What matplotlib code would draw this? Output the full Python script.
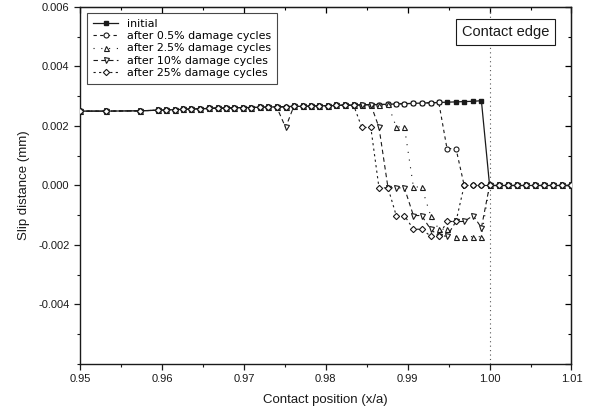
import matplotlib
matplotlib.use("Agg")
import matplotlib.pyplot as plt
from matplotlib.ticker import MultipleLocator, FormatStrFormatter, FixedLocator

plt.rcParams['font.family'] = ['Liberation Sans', 'DejaVu Sans']
plt.rcParams['axes.unicode_minus'] = False

# ---- data ----
x_pos = [0.9500, 0.9532, 0.9573, 0.9595, 0.9605, 0.9616, 0.9626, 0.9636, 0.9647, 0.9657,
         0.9668, 0.9678, 0.9688, 0.9699, 0.9709, 0.9720, 0.9730, 0.9740, 0.9751, 0.9761,
         0.9772, 0.9782, 0.9792, 0.9803, 0.9813, 0.9824, 0.9834, 0.9844, 0.9855, 0.9865,
         0.9876, 0.9886, 0.9896, 0.9907, 0.9917, 0.9928, 0.9938, 0.9948, 0.9959, 0.9969,
         0.9980, 0.9990, 1.0000, 1.0011, 1.0022, 1.0033, 1.0044, 1.0056, 1.0067, 1.0078,
         1.0089, 1.0100]

slip_initial = [0.00250, 0.00250, 0.00251, 0.00253, 0.00254, 0.00255, 0.00256, 0.00257, 0.00258, 0.00259,
                0.00260, 0.00260, 0.00261, 0.00262, 0.00262, 0.00263, 0.00264, 0.00264, 0.00265, 0.00266,
                0.00266, 0.00267, 0.00268, 0.00268, 0.00269, 0.00270, 0.00270, 0.00271, 0.00272, 0.00272,
                0.00273, 0.00274, 0.00275, 0.00276, 0.00277, 0.00278, 0.00279, 0.00280, 0.00281, 0.00282,
                0.00283, 0.00285, 0.0, 0.0, 0.0, 0.0, 0.0, 0.0, 0.0, 0.0,
                0.0, 0.0]

slip_05 = [0.00250, 0.00250, 0.00251, 0.00253, 0.00254, 0.00255, 0.00256, 0.00257, 0.00258, 0.00259,
           0.00260, 0.00260, 0.00261, 0.00262, 0.00262, 0.00263, 0.00264, 0.00264, 0.00265, 0.00266,
           0.00266, 0.00267, 0.00268, 0.00268, 0.00269, 0.00270, 0.00270, 0.00271, 0.00272, 0.00272,
           0.00273, 0.00274, 0.00275, 0.00276, 0.00277, 0.00278, 0.00279, 0.00124, 0.00124, 0.0,
           0.0, 0.0, 0.0, 0.0, 0.0, 0.0, 0.0, 0.0, 0.0, 0.0,
           0.0, 0.0]

slip_25 = [0.00250, 0.00250, 0.00251, 0.00253, 0.00254, 0.00255, 0.00256, 0.00257, 0.00258, 0.00259,
           0.00260, 0.00260, 0.00261, 0.00262, 0.00262, 0.00263, 0.00264, 0.00264, 0.00265, 0.00266,
           0.00266, 0.00267, 0.00268, 0.00268, 0.00269, 0.00270, 0.00270, 0.00271, 0.00272, 0.00272,
           0.00273, 0.00197, 0.00197, -0.00005, -0.00005, -0.00101, -0.00147, -0.00147, -0.00172, -0.00172,
           -0.00172, -0.00172, 0.0, 0.0, 0.0, 0.0, 0.0, 0.0, 0.0, 0.0,
           0.0, 0.0]

slip_10 = [0.00250, 0.00250, 0.00251, 0.00253, 0.00254, 0.00255, 0.00256, 0.00257, 0.00258, 0.00259,
           0.00260, 0.00260, 0.00261, 0.00262, 0.00262, 0.00263, 0.00264, 0.00264, 0.00195, 0.00266,
           0.00266, 0.00267, 0.00268, 0.00268, 0.00269, 0.00270, 0.00270, 0.00271, 0.00272, 0.00195,
           -0.00008, -0.00008, -0.00008, -0.00101, -0.00101, -0.00147, -0.00170, -0.00170, -0.00121, -0.00121,
           -0.00101, -0.00142, 0.0, 0.0, 0.0, 0.0, 0.0, 0.0, 0.0, 0.0,
           0.0, 0.0]

slip_250 = [0.00250, 0.00250, 0.00251, 0.00253, 0.00254, 0.00255, 0.00256, 0.00257, 0.00258, 0.00259,
            0.00260, 0.00260, 0.00261, 0.00262, 0.00262, 0.00263, 0.00264, 0.00264, 0.00265, 0.00266,
            0.00266, 0.00267, 0.00268, 0.00268, 0.00269, 0.00270, 0.00270, 0.00195, 0.00195, -0.00008,
            -0.00008, -0.00101, -0.00101, -0.00147, -0.00147, -0.00170, -0.00170, -0.00121, -0.00121, 0.0,
            0.0, 0.0, 0.0, 0.0, 0.0, 0.0, 0.0, 0.0, 0.0, 0.0,
            0.0, 0.0]

labels = ["initial",
          "after 0.5% damage cycles",
          "after 2.5% damage cycles",
          "after 10% damage cycles",
          "after 25% damage cycles"]

x_ticks = [0.95, 0.96, 0.97, 0.98, 0.99, 1.00, 1.01]
y_ticks = [-0.004, -0.002, 0.000, 0.002, 0.004, 0.006]

# ---- figure ----
fig = plt.figure(figsize=(5.95, 4.11), dpi=100)
ax = fig.add_axes([0.1345, 0.1144, 0.826, 0.8686])

ink = '#1a1a1a'
ms = 3.6
ax.plot(x_pos, slip_initial, '-', color=ink, lw=0.9, marker='s', ms=3.0,
        mfc=ink, mec=ink, label=labels[0], zorder=3)
ax.plot(x_pos, slip_05, color=ink, lw=0.8, ls=(0, (3, 3)), marker='o', ms=ms,
        mfc='white', mec=ink, mew=0.8, label=labels[1], zorder=4)
ax.plot(x_pos, slip_25, color=ink, lw=0.8, ls=(0, (1, 6)), marker='^', ms=ms,
        mfc='white', mec=ink, mew=0.8, label=labels[2], zorder=4)
ax.plot(x_pos, slip_10, color=ink, lw=0.8, ls=(0, (4, 3)), marker='v', ms=ms,
        mfc='white', mec=ink, mew=0.8, label=labels[3], zorder=4)
ax.plot(x_pos, slip_250, color=ink, lw=0.8, ls=(0, (2, 3)), marker='D', ms=3.2,
        mfc='white', mec=ink, mew=0.8, label=labels[4], zorder=5)

# contact edge line
ax.axvline(1.00, color='#555555', lw=0.8, ls=(0, (1, 3)), zorder=2)

ax.set_xlim(0.95, 1.01)
ax.set_ylim(-0.006, 0.006)
ax.xaxis.set_major_locator(FixedLocator(x_ticks))
ax.xaxis.set_minor_locator(MultipleLocator(0.005))
ax.yaxis.set_major_locator(FixedLocator(y_ticks))
ax.yaxis.set_minor_locator(MultipleLocator(0.001))
ax.xaxis.set_major_formatter(FormatStrFormatter('%.2f'))
ax.yaxis.set_major_formatter(FormatStrFormatter('%.3f'))
ax.tick_params(which='major', direction='out', length=4, width=0.9, labelsize=8, colors=ink)
ax.tick_params(which='minor', direction='out', length=2.5, width=0.8, colors=ink)
for s in ax.spines.values():
    s.set_linewidth(1.0)
    s.set_color(ink)

# inward mirror ticks on top and right
secx = ax.secondary_xaxis('top')
secx.xaxis.set_major_locator(FixedLocator(x_ticks))
secx.xaxis.set_minor_locator(MultipleLocator(0.005))
secx.tick_params(which='major', direction='in', length=4, width=0.9, labeltop=False)
secx.tick_params(which='minor', direction='in', length=2.5, width=0.8)
secy = ax.secondary_yaxis('right')
secy.yaxis.set_major_locator(FixedLocator(y_ticks + [-0.006]))
secy.yaxis.set_minor_locator(MultipleLocator(0.001))
secy.tick_params(which='major', direction='in', length=4, width=0.9, labelright=False)
secy.tick_params(which='minor', direction='in', length=2.5, width=0.8)

ax.set_xlabel('Contact position (x/a)', fontsize=9.5, color=ink, labelpad=7)
ax.set_ylabel('Slip distance (mm)', fontsize=9.5, color=ink, labelpad=6)

leg = ax.legend(loc='upper left', bbox_to_anchor=(0.014, 0.983),
                prop={'family': 'DejaVu Sans', 'size': 7.9},
                frameon=True, fancybox=False, handlelength=2.3, handletextpad=0.8,
                labelspacing=0.2, borderpad=0.55, borderaxespad=0.0)
leg.get_frame().set_edgecolor(ink)
leg.get_frame().set_linewidth(0.8)

ax.text(0.866, 0.93, 'Contact edge', transform=ax.transAxes, fontsize=10.5,
        ha='center', va='center', color=ink,
        bbox=dict(boxstyle='square,pad=0.4', fc='white', ec=ink, lw=0.8))

fig.savefig('out.png', dpi=100)
